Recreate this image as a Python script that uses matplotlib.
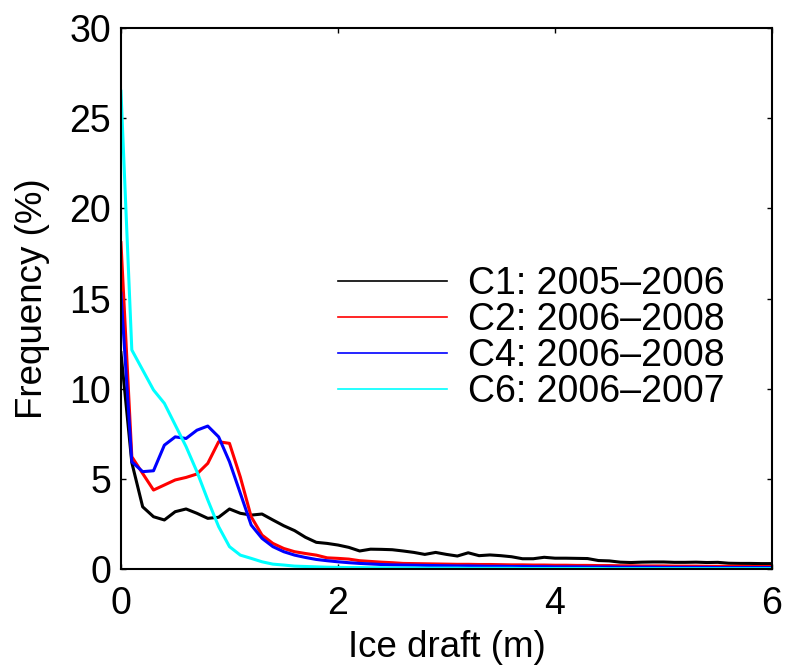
import numpy as np
import matplotlib
matplotlib.use("Agg")
import matplotlib.pyplot as plt
from matplotlib.lines import Line2D

plt.rcParams['font.family'] = ['Liberation Sans', 'DejaVu Sans']

# Ice draft bins (m), 0.1 m spacing
draft = np.round(np.arange(0, 61) * 0.1, 1)

# Frequency (%)
c1 = [12.0, 5.9, 3.45, 2.9, 2.72, 3.18, 3.33, 3.09, 2.81, 2.87,
      3.33, 3.09, 2.99, 3.05, 2.72, 2.4, 2.13, 1.76, 1.48, 1.42,
      1.33, 1.2, 1.0, 1.1, 1.09, 1.07, 1.0, 0.92, 0.81, 0.92,
      0.81, 0.72, 0.9, 0.74, 0.78, 0.74, 0.68, 0.57, 0.57, 0.65,
      0.6, 0.6, 0.59, 0.58, 0.47, 0.45, 0.38, 0.36, 0.38, 0.39,
      0.39, 0.37, 0.37, 0.38, 0.36, 0.37, 0.32, 0.31, 0.31, 0.3, 0.3]
c2 = [18.1, 6.23, 5.3, 4.38, 4.66, 4.94, 5.08, 5.27, 5.86, 7.06,
      6.97, 5.1, 2.9, 1.88, 1.42, 1.14, 0.96, 0.86, 0.77, 0.62,
      0.59, 0.55, 0.46, 0.42, 0.38, 0.35, 0.31, 0.3, 0.29, 0.28,
      0.27, 0.26, 0.26, 0.25, 0.25, 0.24, 0.23, 0.23, 0.22, 0.22,
      0.21, 0.21, 0.2, 0.2, 0.19, 0.19, 0.18, 0.18, 0.17, 0.17,
      0.17, 0.16, 0.16, 0.16, 0.15, 0.15, 0.15, 0.15, 0.14, 0.14, 0.14]
c4 = [15.3, 5.95, 5.4, 5.45, 6.87, 7.33, 7.24, 7.7, 7.93, 7.33,
      5.95, 4.2, 2.44, 1.7, 1.24, 0.96, 0.77, 0.64, 0.53, 0.46,
      0.4, 0.35, 0.31, 0.28, 0.25, 0.23, 0.22, 0.21, 0.2, 0.19,
      0.18, 0.17, 0.17, 0.16, 0.15, 0.15, 0.14, 0.14, 0.13, 0.13,
      0.12, 0.12, 0.12, 0.11, 0.11, 0.11, 0.1, 0.1, 0.1, 0.1,
      0.09, 0.09, 0.09, 0.09, 0.09, 0.08, 0.08, 0.08, 0.08, 0.08, 0.08]
c6 = [26.5, 12.15, 11.04, 9.93, 9.19, 7.99, 6.79, 5.4, 3.83, 2.35,
      1.24, 0.77, 0.59, 0.4, 0.27, 0.22, 0.16, 0.14, 0.12, 0.1,
      0.09, 0.08, 0.08, 0.07, 0.07, 0.06, 0.06, 0.06, 0.05, 0.05,
      0.05, 0.05, 0.04, 0.04, 0.04, 0.04, 0.04, 0.03, 0.03, 0.03,
      0.03, 0.03, 0.03, 0.03, 0.03, 0.02, 0.02, 0.02, 0.02, 0.02,
      0.02, 0.02, 0.02, 0.02, 0.02, 0.02, 0.02, 0.02, 0.02, 0.02, 0.02]

labels = ['C1: 2005\u20132006', 'C2: 2006\u20132008',
          'C4: 2006\u20132008', 'C6: 2006\u20132007']
colors = ['black', 'red', 'blue', 'cyan']

fig = plt.figure(figsize=(7.87, 6.71), dpi=100)
ax = fig.add_axes([0.1537, 0.152, 0.8273, 0.806])

for y, c in zip([c1, c2, c4, c6], colors):
    ax.plot(draft, y, color=c, lw=2.2)

ax.set_xlim(0, 6)
ax.set_ylim(0, 30)
ax.set_xticks([0, 2, 4, 6])
ax.set_yticks(np.arange(0, 31, 5))
ax.tick_params(direction='in', length=3.6, width=1, labelsize=27,
               top=True, right=True)
ax.tick_params(axis='x', pad=12)
ax.tick_params(axis='y', pad=7)
for s in ax.spines.values():
    s.set_linewidth(1.5)

ax.set_xlabel('Ice draft (m)', fontsize=26.5, labelpad=6)
ax.set_ylabel('Frequency (%)', fontsize=26.5, labelpad=14)

handles = [Line2D([], [], color=c, lw=1.2) for c in colors]
ax.legend(handles, labels, loc='center left', bbox_to_anchor=(0.333, 0.427),
          frameon=False, fontsize=27, handlelength=2.9, handletextpad=0.56,
          labelspacing=0.0, borderaxespad=0, borderpad=0)

fig.savefig('out.png', dpi=100)
